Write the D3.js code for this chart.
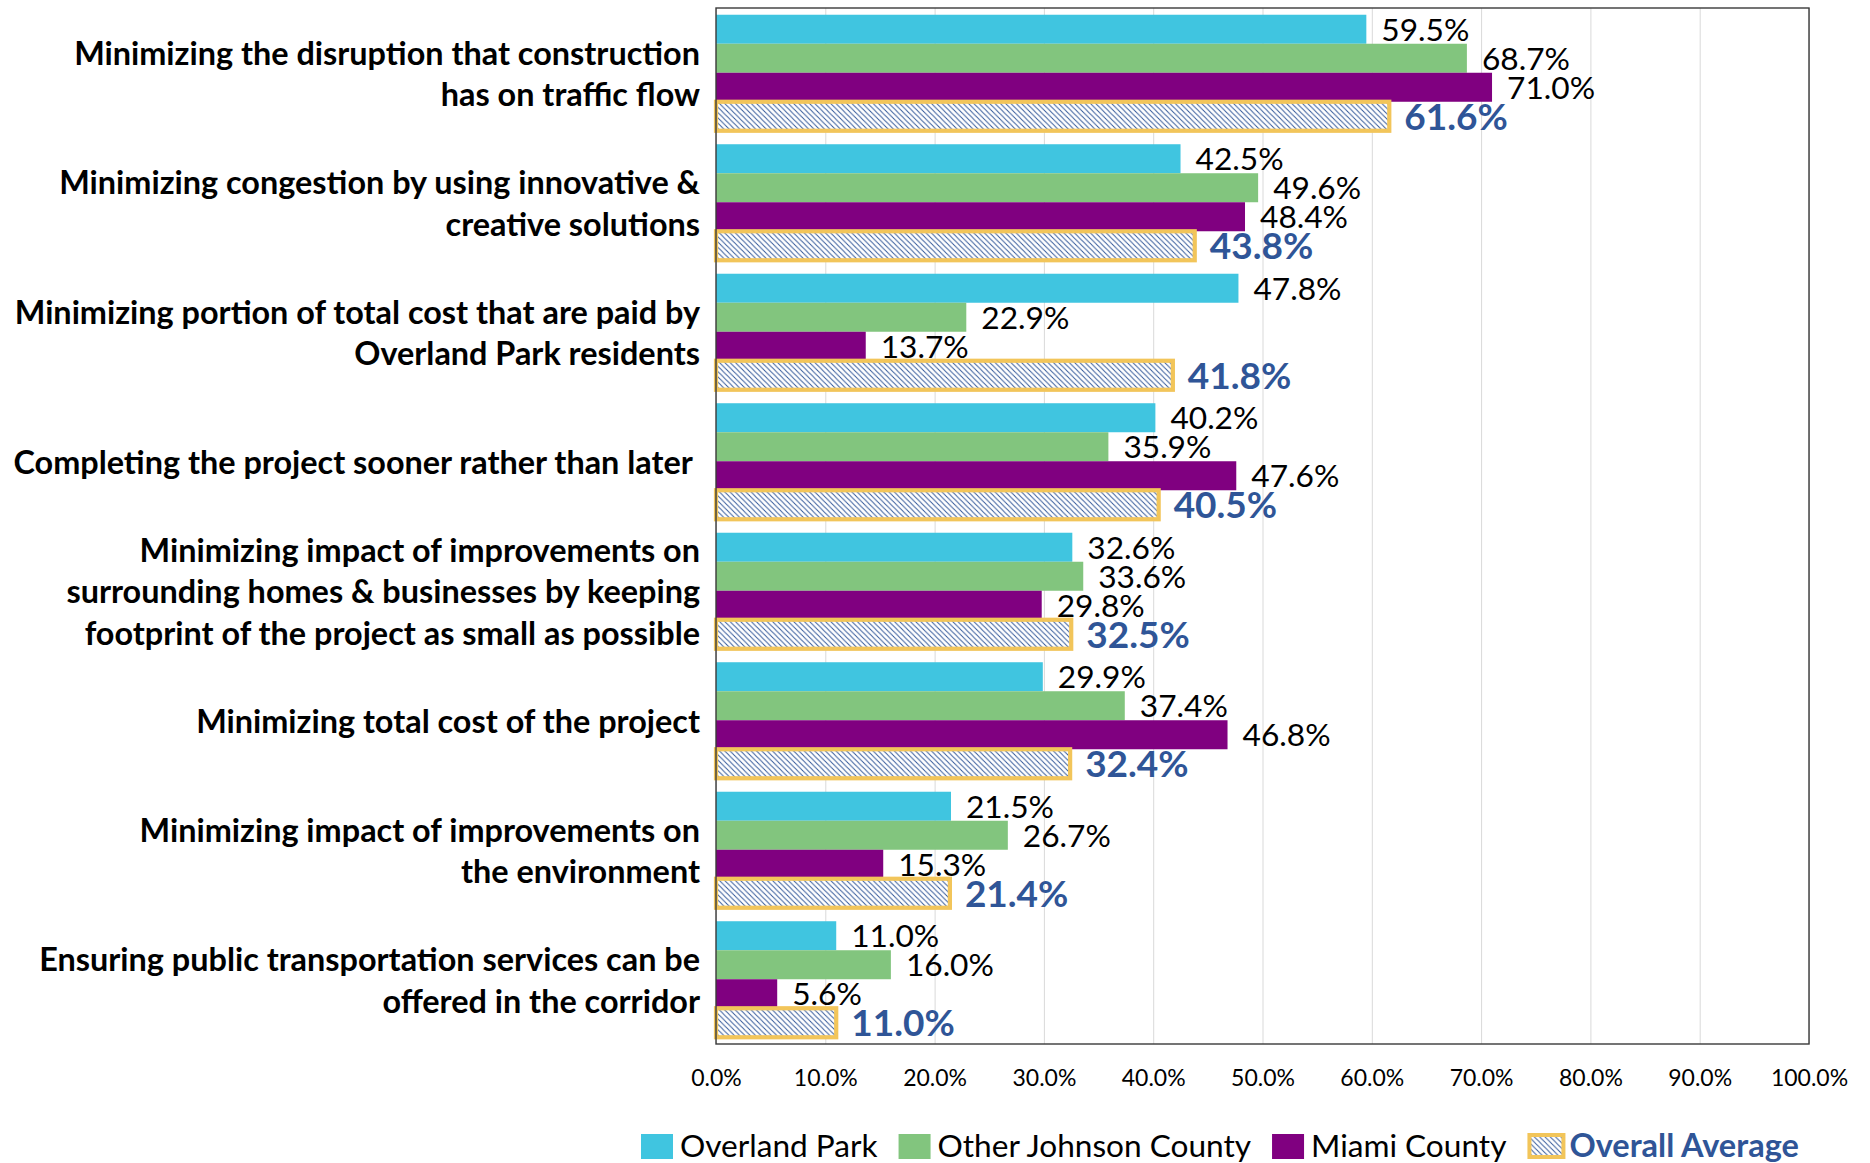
<!DOCTYPE html>
<html>
<head>
<meta charset="utf-8">
<script src="https://cdn.jsdelivr.net/npm/d3@7"></script>
<style>
  body { margin: 0; background: #ffffff; }
  svg { display: block; }
  text { font-family: Lato, "Open Sans", sans-serif; }
</style>
</head>
<body>
<svg id="chart" width="1870" height="1163"></svg>
<script>
// ---------- data ----------
const categories = [
  "Minimizing the disruption that construction\nhas on traffic flow",
  "Minimizing congestion by using innovative &\ncreative solutions",
  "Minimizing portion of total cost that are paid by\nOverland Park residents",
  "Completing the project sooner rather than later ",
  "Minimizing impact of improvements on\nsurrounding homes & businesses by keeping\nfootprint of the project as small as possible",
  "Minimizing total cost of the project",
  "Minimizing impact of improvements on\nthe environment",
  "Ensuring public transportation services can be\noffered in the corridor"
];
const seriesNames = ["Overland Park", "Other Johnson County", "Miami County", "Overall Average"];
const overlandPark   = [59.5, 42.5, 47.8, 40.2, 32.6, 29.9, 21.5, 11.0];
const otherJohnson   = [68.7, 49.6, 22.9, 35.9, 33.6, 37.4, 26.7, 16.0];
const miamiCounty    = [71.0, 48.4, 13.7, 47.6, 29.8, 46.8, 15.3, 5.6];
const overallAverage = [61.6, 43.8, 41.8, 40.5, 32.5, 32.4, 21.4, 11.0];
const xTicks = [0, 10, 20, 30, 40, 50, 60, 70, 80, 90, 100];

const seriesValues = [overlandPark, otherJohnson, miamiCounty, overallAverage];
const colors = ["#40C5E0", "#82C57E", "#800080", "url(#hatch)"];
const navy = "#2F5597";
const gold = "#F2C55A";

// ---------- layout ----------
const svg = d3.select("#chart");
const plot = { left: 716, right: 1809, top: 8, bottom: 1044 };

const x = d3.scaleLinear().domain([0, 100]).range([plot.left, plot.right]);
const y = d3.scaleBand().domain(d3.range(categories.length))
  .range([plot.top, plot.bottom]).paddingInner(0.104).paddingOuter(0.052);
const ySub = d3.scaleBand().domain(d3.range(seriesNames.length)).range([0, y.bandwidth()]);

// hatch pattern
const defs = svg.append("defs");
const pat = defs.append("pattern").attr("id", "hatch")
  .attr("patternUnits", "userSpaceOnUse").attr("width", 5.3).attr("height", 5.3);
pat.append("rect").attr("width", 5.3).attr("height", 5.3).attr("fill", "#ffffff");
pat.append("path").attr("d", "M0,0L5.3,5.3M-1.5,3.8L1.5,6.8M3.8,-1.5L6.8,1.5")
  .attr("stroke", navy).attr("stroke-width", 0.95);

// gridlines
svg.append("g").attr("transform", `translate(0,${plot.bottom})`)
  .call(d3.axisBottom(x).tickValues(xTicks).tickSize(-(plot.bottom - plot.top)).tickFormat(""))
  .call(g => g.select(".domain").remove())
  .call(g => g.selectAll("line").attr("stroke", "#D9D9D9").attr("stroke-width", 1));

// bars
const groups = svg.append("g").selectAll("g").data(categories).join("g")
  .attr("transform", (d, i) => `translate(0,${y(i)})`);

groups.each(function (c, ci) {
  const g = d3.select(this);
  seriesValues.forEach((vals, si) => {
    const v = vals[ci];
    const r = g.append("rect")
      .attr("x", x(0)).attr("y", ySub(si))
      .attr("width", x(v) - x(0)).attr("height", ySub.bandwidth())
      .attr("fill", colors[si]);
    if (si === 3) r.attr("stroke", gold).attr("stroke-width", 4.2);
  });
});

// plot frame
svg.append("rect")
  .attr("x", plot.left).attr("y", plot.top)
  .attr("width", plot.right - plot.left).attr("height", plot.bottom - plot.top)
  .attr("fill", "none").attr("stroke", "#3a3a3a").attr("stroke-width", 1.4);

// value labels
groups.each(function (c, ci) {
  const g = d3.select(this);
  seriesValues.forEach((vals, si) => {
    const v = vals[ci];
    const bold = si === 3;
    g.append("text")
      .attr("x", x(v) + 15)
      .attr("y", ySub(si) + ySub.bandwidth() / 2)
      .attr("dy", "0.36em")
      .attr("font-size", bold ? 37 : 31.7)
      .attr("font-weight", bold ? 700 : 400)
      .attr("fill", bold ? navy : "#000000")
      .text(v.toFixed(1) + "%");
  });
});

// category labels
const lineH = 41.7;
svg.append("g").selectAll("text").data(categories).join("text")
  .attr("text-anchor", "end")
  .attr("font-size", 32.4)
  .attr("font-weight", 700)
  .attr("fill", "#000000")
  .style("white-space", "pre")
  .each(function (c, i) {
    const lines = c.split("\n");
    const cy = y(i) + y.bandwidth() / 2 + 1;
    const t = d3.select(this);
    lines.forEach((ln, li) => {
      t.append("tspan")
        .attr("x", 700)
        .attr("y", cy + (li - (lines.length - 1) / 2) * lineH)
        .attr("dy", "0.36em")
        .text(ln);
    });
  });

// x axis tick labels
svg.append("g").attr("transform", `translate(0,${plot.bottom})`)
  .call(d3.axisBottom(x).tickValues(xTicks).tickSize(0).tickFormat(d => d.toFixed(1) + "%"))
  .call(g => g.select(".domain").remove())
  .call(g => g.selectAll("text")
    .attr("y", 42).attr("dy", "0")
    .attr("font-size", 23).attr("font-family", "Lato, sans-serif").attr("fill", "#000000"));

// legend
const legend = svg.append("g");
let lx = 641;
const baseY = 1157;
seriesNames.forEach((name, si) => {
  const hatched = si === 3;
  if (hatched) {
    legend.append("rect").attr("x", lx + 2).attr("y", 1135).attr("width", 34).attr("height", 22)
      .attr("fill", "url(#hatch)").attr("stroke", gold).attr("stroke-width", 4);
  } else {
    legend.append("rect").attr("x", lx).attr("y", 1134).attr("width", 32).attr("height", 25)
      .attr("fill", colors[si]);
  }
  const tx = lx + (hatched ? 42 : 39);
  const t = legend.append("text").attr("x", tx).attr("y", baseY)
    .attr("font-size", hatched ? 32.5 : 31.6)
    .attr("font-weight", hatched ? 700 : 400)
    .attr("fill", hatched ? navy : "#000000")
    .text(name);
  lx = tx + t.node().getComputedTextLength() + 21;
});
</script>
</body>
</html>
